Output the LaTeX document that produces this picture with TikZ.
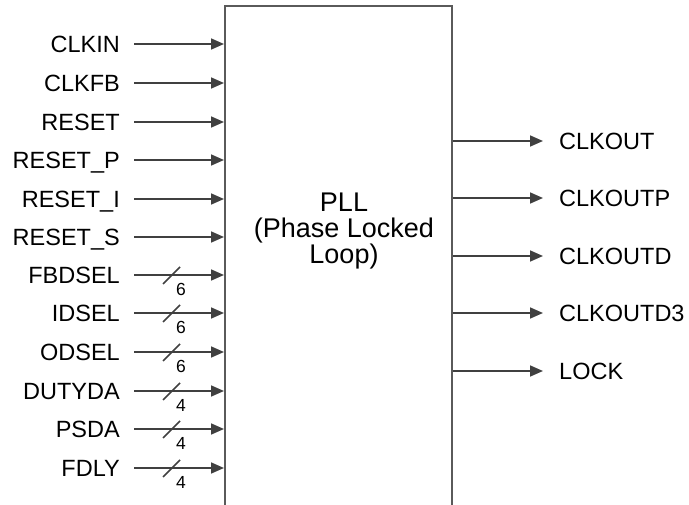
\documentclass[tikz,border=0pt]{standalone}
\usepackage{fontspec}
\setmainfont{Liberation Sans}
\usetikzlibrary{arrows.meta,positioning}

\definecolor{wirecol}{RGB}{64,64,64}
\definecolor{edgecol}{RGB}{90,90,90}

\begin{document}
\begin{tikzpicture}[
  x=1pt, y=-1pt,
  blk/.style={draw=edgecol, line width=2pt, fill=white, inner sep=0pt,
              minimum width=227pt, minimum height=500pt},
  title/.style={align=center, font=\fontsize{27}{26}\selectfont},
  pin/.style={font=\fontsize{23.5}{26}\selectfont, inner sep=0pt,
              text height=16.8pt, text depth=0pt},
  inp/.style={pin, anchor=east},
  outp/.style={pin, anchor=west},
  arr/.style={-{Triangle[length=13pt,width=11pt]}, draw=wirecol, line width=1.7pt},
  slash/.style={draw=wirecol, line width=1.5pt},
  wid/.style={font=\fontsize{17.5}{20}\selectfont, inner sep=0pt}
]
\useasboundingbox (0,0) rectangle (689,505);

\node[blk] (pll) at (338.5,256) {};
\node[title] (pllname) at (344,231) {PLL\\(Phase Locked\\Loop)};

% inputs
\node[inp] (clkin)  at (120,44)  {CLKIN};
\node[inp] (clkfb)  at (120,83)  {CLKFB};
\node[inp] (reset)  at (120,122) {RESET};
\node[inp] (resetp) at (120,160) {RESET\_P};
\node[inp] (reseti) at (120,199) {RESET\_I};
\node[inp] (resets) at (120,237) {RESET\_S};
\node[inp] (fbdsel) at (120,275) {FBDSEL};
\node[inp] (idsel)  at (120,313) {IDSEL};
\node[inp] (odsel)  at (120,352) {ODSEL};
\node[inp] (dutyda) at (120,391) {DUTYDA};
\node[inp] (psda)   at (120,429) {PSDA};
\node[inp] (fdly)   at (120,468) {FDLY};

\draw[arr] ([xshift=14pt]clkin.east)  -- (clkin.east -| pll.west);
\draw[arr] ([xshift=14pt]clkfb.east)  -- (clkfb.east -| pll.west);
\draw[arr] ([xshift=14pt]reset.east)  -- (reset.east -| pll.west);
\draw[arr] ([xshift=14pt]resetp.east) -- (resetp.east -| pll.west);
\draw[arr] ([xshift=14pt]reseti.east) -- (reseti.east -| pll.west);
\draw[arr] ([xshift=14pt]resets.east) -- (resets.east -| pll.west);
\draw[arr] ([xshift=14pt]fbdsel.east) -- (fbdsel.east -| pll.west);
\draw[arr] ([xshift=14pt]idsel.east)  -- (idsel.east -| pll.west);
\draw[arr] ([xshift=14pt]odsel.east)  -- (odsel.east -| pll.west);
\draw[arr] ([xshift=14pt]dutyda.east) -- (dutyda.east -| pll.west);
\draw[arr] ([xshift=14pt]psda.east)   -- (psda.east -| pll.west);
\draw[arr] ([xshift=14pt]fdly.east)   -- (fdly.east -| pll.west);

% bus widths
\draw[slash] ([xshift=43pt,yshift=-9pt]fbdsel.east) -- ([xshift=60pt,yshift=8pt]fbdsel.east);
\draw[slash] ([xshift=43pt,yshift=-9pt]idsel.east)  -- ([xshift=60pt,yshift=8pt]idsel.east);
\draw[slash] ([xshift=43pt,yshift=-9pt]odsel.east)  -- ([xshift=60pt,yshift=8pt]odsel.east);
\draw[slash] ([xshift=43pt,yshift=-9pt]dutyda.east) -- ([xshift=60pt,yshift=8pt]dutyda.east);
\draw[slash] ([xshift=43pt,yshift=-9pt]psda.east)   -- ([xshift=60pt,yshift=8pt]psda.east);
\draw[slash] ([xshift=43pt,yshift=-9pt]fdly.east)   -- ([xshift=60pt,yshift=8pt]fdly.east);
\node[wid] (wfbdsel) at ([xshift=61pt,yshift=-14.5pt]fbdsel.east) {6};
\node[wid] (widsel)  at ([xshift=61pt,yshift=-14.5pt]idsel.east)  {6};
\node[wid] (wodsel)  at ([xshift=61pt,yshift=-14.5pt]odsel.east)  {6};
\node[wid] (wdutyda) at ([xshift=61pt,yshift=-14.5pt]dutyda.east) {4};
\node[wid] (wpsda)   at ([xshift=61pt,yshift=-14.5pt]psda.east)   {4};
\node[wid] (wfdly)   at ([xshift=61pt,yshift=-14.5pt]fdly.east)   {4};

% outputs
\node[outp] (clkout)   at (559,141) {CLKOUT};
\node[outp] (clkoutp)  at (559,198) {CLKOUTP};
\node[outp] (clkoutd)  at (559,256) {CLKOUTD};
\node[outp] (clkoutd3) at (559,313) {CLKOUTD3};
\node[outp] (lock)     at (559,371) {LOCK};

\draw[arr] (clkout.west -| pll.east)   -- ([xshift=-16pt]clkout.west);
\draw[arr] (clkoutp.west -| pll.east)  -- ([xshift=-16pt]clkoutp.west);
\draw[arr] (clkoutd.west -| pll.east)  -- ([xshift=-16pt]clkoutd.west);
\draw[arr] (clkoutd3.west -| pll.east) -- ([xshift=-16pt]clkoutd3.west);
\draw[arr] (lock.west -| pll.east)     -- ([xshift=-16pt]lock.west);
\end{tikzpicture}
\end{document}
